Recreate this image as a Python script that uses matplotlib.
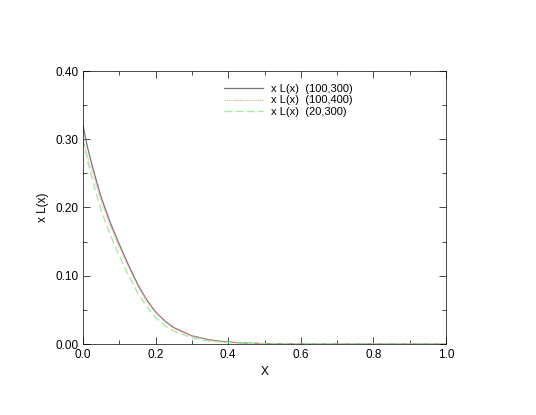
import matplotlib
matplotlib.use("Agg")
import matplotlib.pyplot as plt
from matplotlib.ticker import MultipleLocator, FormatStrFormatter

plt.rcParams['font.family'] = ['Liberation Sans', 'DejaVu Sans']

x = [0, 0.0125, 0.025, 0.0375, 0.05, 0.075, 0.1, 0.125, 0.15, 0.175, 0.2, 0.225, 0.25, 0.3, 0.35, 0.4, 0.45, 0.5, 0.6, 0.8, 1.0]
y_100_300 = [0.32, 0.288, 0.262, 0.238, 0.215, 0.178, 0.146, 0.116, 0.088, 0.065, 0.047, 0.034, 0.024, 0.012, 0.0058, 0.0028, 0.0013, 0.0006, 0.0001, 0, 0]
y_100_400 = [0.30, 0.275, 0.252, 0.231, 0.209, 0.173, 0.142, 0.113, 0.086, 0.063, 0.046, 0.033, 0.023, 0.0115, 0.0055, 0.0026, 0.0012, 0.0006, 0.0001, 0, 0]
y_20_300 = [0.30, 0.268, 0.242, 0.218, 0.196, 0.160, 0.129, 0.101, 0.076, 0.055, 0.039, 0.027, 0.019, 0.009, 0.0042, 0.0019, 0.0009, 0.0004, 0.0001, 0, 0]

fig = plt.figure(figsize=(5.36, 4.15), dpi=100)
ax = fig.add_axes([83/536, 1-344/415, 363/536, 273/415])
ax.plot(x, y_100_300, color="#777777", lw=0.9, label="x L(x)  (100,300)")
ax.plot(x, y_100_400, color="#ff9999", lw=0.8, ls=(0, (1, 1)), label="x L(x)  (100,400)")
ax.plot(x, y_20_300, color="#99ee99", lw=0.9, ls=(0, (6, 3)), label="x L(x)  (20,300)")
ax.set_xlim(0, 1)
ax.set_ylim(0, 0.4)
ax.xaxis.set_major_locator(MultipleLocator(0.2))
ax.xaxis.set_minor_locator(MultipleLocator(0.1))
ax.yaxis.set_major_locator(MultipleLocator(0.1))
ax.yaxis.set_minor_locator(MultipleLocator(0.05))
ax.xaxis.set_major_formatter(FormatStrFormatter("%.1f"))
ax.yaxis.set_major_formatter(FormatStrFormatter("%.2f"))
ax.tick_params(which="both", direction="in", top=True, right=True, labelsize=8.5)
ax.tick_params(which="major", length=5, width=0.5)
ax.tick_params(which="minor", length=3, width=0.5)
for s in ax.spines.values():
    s.set_linewidth(0.5)
ax.set_xlabel("X", fontsize=8.5)
ax.set_ylabel("x L(x)", fontsize=8.5)
ax.legend(loc="upper left", bbox_to_anchor=(0.36, 0.99), frameon=False, fontsize=8,
          handlelength=3.5, labelspacing=0.15)
fig.savefig("out.png", dpi=100)
